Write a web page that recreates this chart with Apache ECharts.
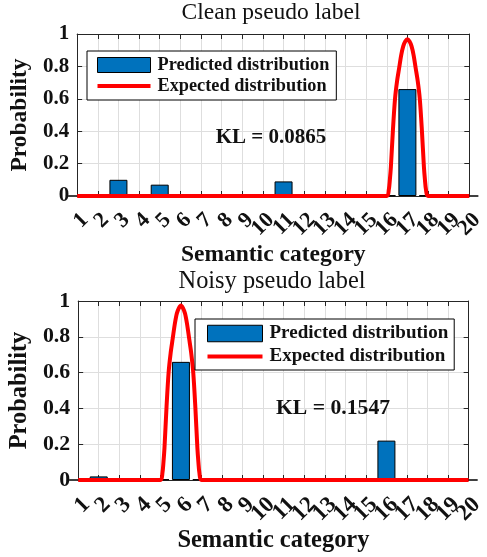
<!DOCTYPE html>
<html>
<head>
<meta charset="utf-8">
<script src="https://cdn.jsdelivr.net/npm/echarts@6/dist/echarts.min.js"></script>
<style>html,body{margin:0;padding:0;background:#fff}#c{width:487px;height:557px}</style>
</head>
<body>
<div id="c"></div>
<script>
// ---- data ----
const categories = [1,2,3,4,5,6,7,8,9,10,11,12,13,14,15,16,17,18,19,20];
const xTickLabels = ['1','2','3','4','5','6','7','8','9','10','11','12','13','14','15','16','17','18','19','20'];
const yTicks = [0, 0.2, 0.4, 0.6, 0.8, 1];

const titles = ['Clean pseudo label', 'Noisy pseudo label'];
const klTexts = ['KL = 0.0865', 'KL = 0.1547'];
const seriesNames = ['Predicted distribution', 'Expected distribution'];
const xName = 'Semantic category';
const yName = 'Probability';

// predicted distribution (bars), one value per category
const cleanPredicted = [0, 0, 0.10, 0, 0.07, 0, 0, 0, 0, 0, 0.09, 0, 0, 0, 0, 0.004, 0.66, 0.004, 0, 0];
const noisyPredicted = [0, 0.02, 0, 0, 0.004, 0.66, 0.004, 0, 0, 0, 0, 0, 0, 0, 0, 0.22, 0, 0, 0, 0];

// expected distribution (red curve)
const cleanExpectedX = [1, 16, 16.1, 16.15, 16.2, 16.3, 16.4, 16.5, 16.6, 16.7, 16.8, 16.9, 17, 17.1, 17.2, 17.3, 17.4, 17.5, 17.6, 17.7, 17.8, 17.85, 17.9, 18, 20];
const cleanExpectedY = [0, 0, 0.04, 0.10, 0.18, 0.41, 0.60, 0.71, 0.79, 0.87, 0.925, 0.955, 0.967, 0.955, 0.925, 0.87, 0.79, 0.71, 0.60, 0.41, 0.18, 0.10, 0.04, 0, 0];
const noisyExpectedX = [1, 5, 5.1, 5.15, 5.2, 5.3, 5.4, 5.5, 5.6, 5.7, 5.8, 5.9, 6, 6.1, 6.2, 6.3, 6.4, 6.5, 6.6, 6.7, 6.8, 6.85, 6.9, 7, 20];
const noisyExpectedY = [0, 0, 0.04, 0.10, 0.18, 0.41, 0.60, 0.71, 0.79, 0.87, 0.93, 0.96, 0.975, 0.96, 0.93, 0.87, 0.79, 0.71, 0.60, 0.41, 0.18, 0.10, 0.04, 0, 0];

// ---- chart ----
const FONT = "'Liberation Serif', 'Times New Roman', serif";
const TXT = '#111';
const AXC = '#262626';
const GRIDC = '#dedede';

const grids = [
  { left: 69, top: 34, width: 404, height: 162 },
  { left: 71, top: 301, width: 402, height: 179 }
];
const scale = [1, 1.04];

function xAxes(gi) {
  const s = scale[gi];
  return [
    { // bottom: category axis carrying the bars and the tick labels
      type: 'category', gridIndex: gi, position: 'bottom', boundaryGap: false,
      data: xTickLabels,
      axisLine: { onZero: false, lineStyle: { color: AXC, width: 1 } },
      axisTick: { inside: true, length: 5, interval: 0, lineStyle: { color: AXC } },
      axisLabel: {
        interval: 0, rotate: 45, margin: 13, verticalAlign: 'top',
        fontFamily: FONT, fontWeight: 'bold', fontSize: 22 * s, color: TXT
      },
      splitLine: { show: true, interval: 0, lineStyle: { color: GRIDC, width: 1 } },
      name: xName, nameLocation: 'middle', nameGap: gi === 0 ? 46 : 47,
      nameTextStyle: { fontFamily: FONT, fontWeight: 'bold', fontSize: 23.5 * s, color: TXT }
    },
    { // top: value axis over the same range, carries the curve and the box ticks
      type: 'value', gridIndex: gi, position: 'top',
      min: categories[0], max: categories[categories.length - 1], interval: 1,
      axisLine: { onZero: false, lineStyle: { color: AXC, width: 1 } },
      axisTick: { inside: true, length: 5, lineStyle: { color: AXC } },
      axisLabel: { show: false },
      splitLine: { show: false }
    }
  ];
}
function yAxes(gi) {
  const s = scale[gi];
  const common = {
    type: 'value', gridIndex: gi, min: yTicks[0], max: yTicks[yTicks.length - 1], interval: 0.2,
    axisLine: { show: true, onZero: false, lineStyle: { color: AXC, width: 1 } },
    axisTick: { show: true, inside: true, length: 5, lineStyle: { color: AXC } }
  };
  return [
    Object.assign({}, common, {
      position: 'left',
      axisLabel: { margin: 8, fontFamily: FONT, fontWeight: 'bold', fontSize: 21 * s, color: TXT },
      splitLine: { show: true, lineStyle: { color: GRIDC, width: 1 } },
      name: yName, nameLocation: 'middle', nameGap: 41,
      nameTextStyle: { fontFamily: FONT, fontWeight: 'bold', fontSize: 23.5 * s, color: TXT }
    }),
    Object.assign({}, common, {
      position: 'right',
      axisLabel: { show: false },
      splitLine: { show: false }
    })
  ];
}

function pairs(xs, ys) { return xs.map((x, i) => [x, ys[i]]); }

function barSeries(gi, vals) {
  return {
    name: seriesNames[0], type: 'bar', xAxisIndex: gi * 2, yAxisIndex: gi * 2,
    data: vals, barWidth: 18,
    itemStyle: { color: '#0072BD', borderColor: '#000', borderWidth: 1 },
    z: 2
  };
}
function lineSeries(gi, xs, ys) {
  return {
    name: seriesNames[1], type: 'line', xAxisIndex: gi * 2 + 1, yAxisIndex: gi * 2,
    data: pairs(xs, ys), smooth: 0.3, symbol: 'none', showSymbol: false,
    lineStyle: { color: '#FF0000', width: 4 }, itemStyle: { color: '#FF0000' },
    z: 3
  };
}

function legend(gi, left, top, pad, gap, iw, ih) {
  const s = scale[gi];
  return {
    orient: 'vertical', left: left, top: top, padding: pad, itemGap: gap,
    itemWidth: iw, itemHeight: ih,
    backgroundColor: '#fff', borderColor: '#000', borderWidth: 1, borderRadius: 0,
    textStyle: { fontFamily: FONT, fontWeight: 'bold', fontSize: 18.3 * s, color: TXT, padding: [0, 0, 0, 2] },
    selectedMode: false,
    data: [
      { name: seriesNames[0], icon: 'rect', itemStyle: { color: '#0072BD', borderColor: '#000', borderWidth: 1 } },
      { name: seriesNames[1], icon: 'path://M0,0H53V4H0Z', itemStyle: { color: '#FF0000', borderWidth: 0 } }
    ]
  };
}

const chart = echarts.init(document.getElementById('c'));
chart.setOption({
  backgroundColor: '#fff',
  animation: false,
  title: [
    { text: titles[0], left: 271, top: 1, textAlign: 'center', padding: 0,
      textStyle: { fontFamily: FONT, fontWeight: 'normal', fontSize: 23.5, color: TXT } },
    { text: titles[1], left: 272, top: 270, textAlign: 'center', padding: 0,
      textStyle: { fontFamily: FONT, fontWeight: 'normal', fontSize: 24.4, color: TXT } },
    { text: klTexts[0], left: 271, top: 127, textAlign: 'center', padding: 0,
      textStyle: { fontFamily: FONT, fontWeight: 'bold', fontSize: 21, color: TXT } },
    { text: klTexts[1], left: 333, top: 397, textAlign: 'center', padding: 0,
      textStyle: { fontFamily: FONT, fontWeight: 'bold', fontSize: 21.7, color: TXT } }
  ],
  legend: [
    legend(0, 87, 51, [5, 7, 5, 10], 3, 53, 15),
    legend(1, 195, 319, [5, 6, 4, 12], 4, 55, 16.5)
  ],
  grid: grids,
  xAxis: [].concat(xAxes(0), xAxes(1)),
  yAxis: [].concat(yAxes(0), yAxes(1)),
  series: [
    barSeries(0, cleanPredicted),
    lineSeries(0, cleanExpectedX, cleanExpectedY),
    barSeries(1, noisyPredicted),
    lineSeries(1, noisyExpectedX, noisyExpectedY)
  ]
});
</script>
</body>
</html>
